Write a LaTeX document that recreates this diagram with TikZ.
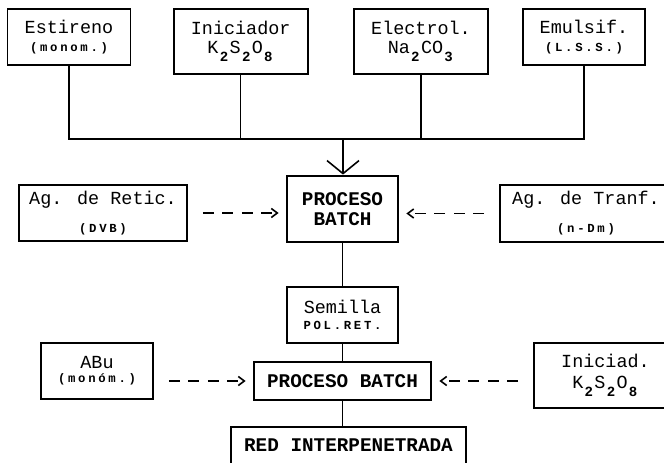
\documentclass[tikz,border=0pt]{standalone}
\usepackage{fontspec}
\setmainfont{Liberation Mono}
\newfontfamily\tagfont[LetterSpace=22]{Liberation Mono}
\usetikzlibrary{arrows.meta}
\newcommand{\chemsub}[1]{\makebox[6.3pt]{\raisebox{-4.5pt}{\fontsize{8}{8}\selectfont\bfseries #1}}}
\newcommand{\tagtext}[1]{{\tagfont\bfseries\fontsize{7}{7}\selectfont #1}}

\begin{document}
\begin{tikzpicture}[x=0.02cm,y=-0.02cm,font=\fontsize{10.5}{10}\selectfont,
  box/.style={draw,line width=1.1pt,align=center,inner sep=0pt},
  batch/.style={box,line width=1.6pt,font=\fontsize{11}{11}\selectfont\bfseries},
  feed/.style={line width=0.9pt},
  side/.style={line width=0.9pt,dash pattern=on 2.2mm off 1.7mm,shorten <=0.3cm,shorten >=0.14cm,
    -{Straight Barb[length=1.2mm,width=1.8mm]}}]
\useasboundingbox (0,0) rectangle (664,463);
\node[box,minimum width=2.46cm,minimum height=1.12cm] (estireno) at (69,37) {Estireno\\\tagtext{(monom.)}};
\node[box,minimum width=2.68cm,minimum height=1.3cm] (iniciador) at (240.7,41.5) {Iniciador\\[0.5pt]K\chemsub{2}S\chemsub{2}O\chemsub{8}};
\node[box,minimum width=2.68cm,minimum height=1.3cm] (electrol) at (421,41.5) {Electrol.\\[0.5pt]Na\chemsub{2}CO\chemsub{3}};
\node[box,minimum width=2.44cm,minimum height=1.12cm] (emulsif) at (584,37) {Emulsif.\\\tagtext{(L.S.S.)}};
\coordinate (bus) at (343,139);
\node[batch,minimum width=2.22cm,minimum height=1.32cm] (pb1) at (342.5,209) {PROCESO\\BATCH};
\node[box,minimum width=3.36cm,minimum height=1.12cm] (retic) at (103,213) {Ag. de Retic.\\[6pt]\tagtext{(DVB)}};
\node[box,minimum width=3.44cm,minimum height=1.14cm] (tranf) at (586,213.5) {Ag. de Tranf.\\[6pt]\tagtext{(n-Dm)}};
\node[box,minimum width=2.22cm,minimum height=1.12cm] (semilla) at (342.5,315) {Semilla\\[-1pt]\tagtext{POL.RET.}};
\node[batch,minimum width=3.54cm,minimum height=0.76cm] (pb2) at (342.5,381) {PROCESO BATCH};
\node[box,minimum width=2.24cm,minimum height=1.12cm] (abu) at (97,371) {ABu\\[-2pt]\tagtext{(monóm.)}};
\node[box,minimum width=2.86cm,minimum height=1.3cm] (iniciad) at (605.5,375.5) {Iniciad.\\[2pt]K\chemsub{2}S\chemsub{2}O\chemsub{8}};
\node[batch,line width=1.1pt,minimum width=4.7cm,minimum height=0.74cm] (red) at (348.5,445.5) {RED INTERPENETRADA};
\draw[feed] (estireno.south) |- (bus) -| (emulsif.south);
\draw[feed] (iniciador.south) -- (iniciador.south |- bus);
\draw[feed] (electrol.south) -- (electrol.south |- bus);
\draw[feed,-{Straight Barb[length=2.6mm,width=6.4mm]}] (bus) -- (bus |- pb1.north);
\draw[side] (retic.east) -- (retic.east -| pb1.west);
\draw[side] (tranf.west) -- (tranf.west -| pb1.east);
\draw[feed] (pb1) -- (semilla);
\draw[feed] (semilla) -- (pb2);
\draw[side] (abu.east |- pb2) -- (pb2.west);
\draw[side] (iniciad.west |- pb2) -- (pb2.east);
\draw[feed] (pb2.south) -- (pb2.south |- red.north);
\end{tikzpicture}
\end{document}
